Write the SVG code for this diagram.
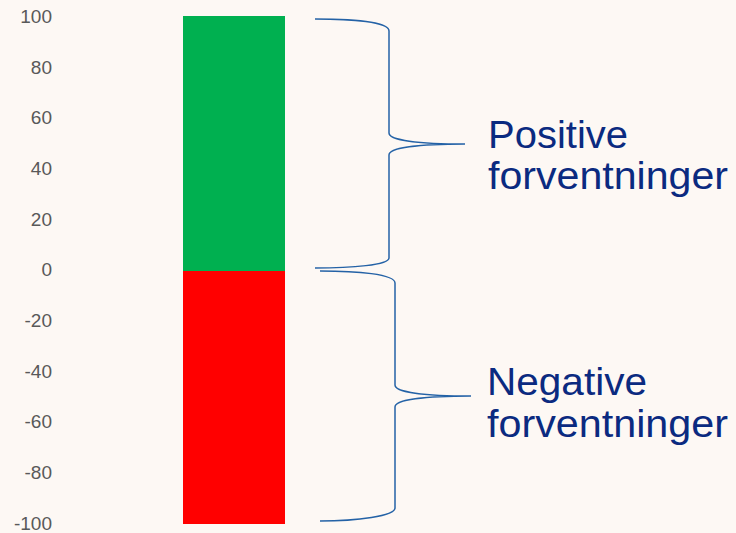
<svg xmlns="http://www.w3.org/2000/svg" width="736" height="533" viewBox="0 0 736 533">
<style>
.ax{font-family:"Liberation Sans",Arial,sans-serif;font-size:19px;fill:#595959;text-anchor:end}
.lb{font-family:"Liberation Sans",Arial,sans-serif;font-size:38px;fill:#0b2a80}
.br{fill:none;stroke:#2462a6;stroke-width:1.5}
</style>
<rect width="736" height="533" fill="#fdf8f4"/>
<g id="axis">
<text class="ax" x="52" y="22.8">100</text>
<text class="ax" x="52" y="73.5">80</text>
<text class="ax" x="52" y="124.2">60</text>
<text class="ax" x="52" y="174.9">40</text>
<text class="ax" x="52" y="225.6">20</text>
<text class="ax" x="52" y="276.3">0</text>
<text class="ax" x="52" y="327">-20</text>
<text class="ax" x="52" y="377.7">-40</text>
<text class="ax" x="52" y="428.4">-60</text>
<text class="ax" x="52" y="479.1">-80</text>
<text class="ax" x="52" y="529.8">-100</text>
</g>
<g id="bar-positive"><rect x="183" y="16" width="102" height="255" fill="#00b050"/></g>
<g id="bar-negative"><rect x="183" y="271" width="102" height="253" fill="#ff0000"/></g>
<g id="connectors">
<path class="br" d="M315,19 C352,19 389,22 389,31 L389,133 C389,140 418,144 465,144 C418,144 389,148 389,155 L389,258 C389,265 352,268 315,268"/>
<path class="br" d="M320,271 C357,271 395,274 395,283 L395,385 C395,392 424,396 471,396 C424,396 395,400 395,407 L395,508 C395,516 357,521 320,521"/>
</g>
<g id="label-positive">
<text class="lb" x="488" y="148" textLength="140" lengthAdjust="spacingAndGlyphs">Positive</text>
<text class="lb" x="488" y="188.5" textLength="240" lengthAdjust="spacingAndGlyphs">forventninger</text>
</g>
<g id="label-negative">
<text class="lb" x="487" y="395" textLength="160" lengthAdjust="spacingAndGlyphs">Negative</text>
<text class="lb" x="487" y="436.5" textLength="241" lengthAdjust="spacingAndGlyphs">forventninger</text>
</g>
</svg>
